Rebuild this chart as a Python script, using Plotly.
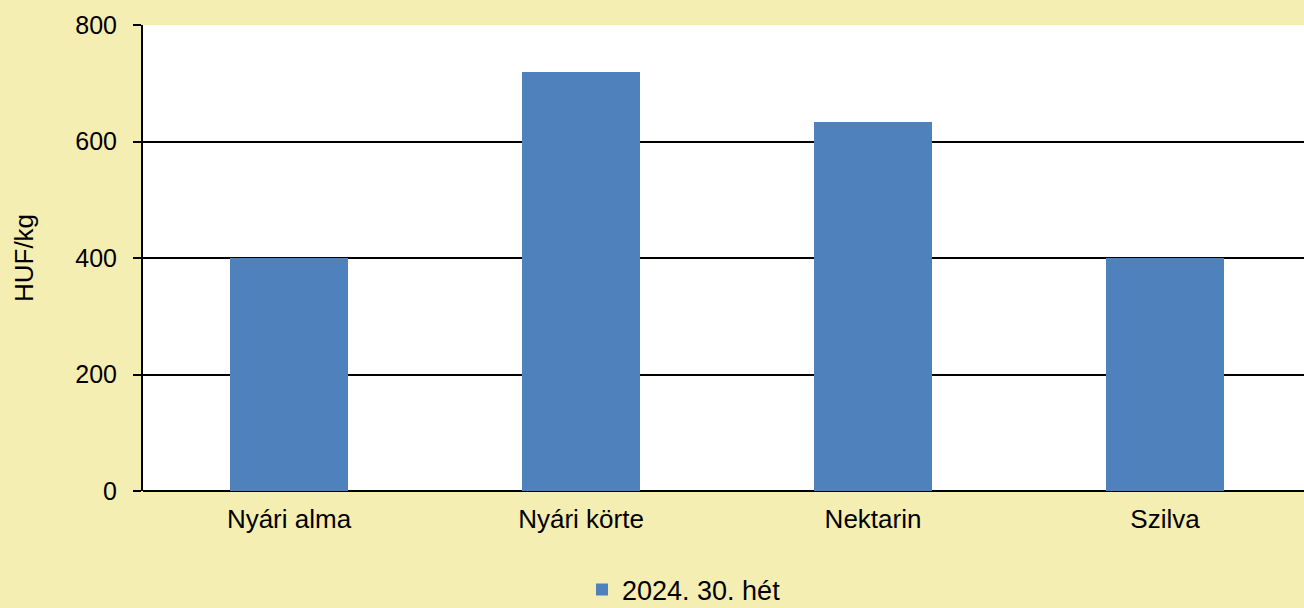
import plotly.graph_objects as go

categories = ["Nyári alma", "Nyári körte", "Nektarin", "Szilva"]
values = [400, 720, 633, 400]
series_name = "2024. 30. hét"
y_ticks = [0, 200, 400, 600, 800]

BG = "#F5EEB3"
BAR = "#4F81BD"
FONT = "Liberation Sans, Arial, sans-serif"

fig = go.Figure()
fig.add_trace(go.Bar(
    x=list(range(len(categories))), y=values, name=series_name,
    marker=dict(color=BAR, line=dict(width=0)), width=0.404,
    showlegend=True,
))

fig.update_layout(
    width=1304, height=608,
    margin=dict(l=143, r=0, t=25, b=117, pad=0),
    paper_bgcolor=BG, plot_bgcolor="white",
    font=dict(family=FONT, size=26, color="black"),
    bargap=0,
    showlegend=True,
    legend=dict(orientation="h", xref="container", yref="container",
                x=582 / 1304, xanchor="left",
                y=(608 - 590) / 608, yanchor="middle",
                font=dict(size=27), bgcolor="rgba(0,0,0,0)", itemwidth=30),
    xaxis=dict(
        tickmode="array", tickvals=list(range(len(categories))), ticktext=categories,
        range=[-0.5, 3.476], showgrid=False, zeroline=False, automargin=False,
        showline=False, ticks="", tickfont=dict(size=26), ticklabelstandoff=10,
    ),
    yaxis=dict(
        range=[0, 800], tickmode="array", tickvals=y_ticks, automargin=False,
        showgrid=True, gridcolor="black", gridwidth=2,
        zeroline=True, zerolinecolor="black", zerolinewidth=2,
        showline=True, linecolor="black", linewidth=2,
        ticks="outside", ticklen=8, tickwidth=2, tickcolor="black",
        tickfont=dict(size=25), ticklabelstandoff=11,
        title=dict(text="HUF/kg", font=dict(size=26), standoff=34),
    ),
)

fig.write_html("out.html", config={"displayModeBar": False},
               post_script="document.body.style.margin='0';document.body.style.padding='0';document.body.style.overflow='hidden';")
